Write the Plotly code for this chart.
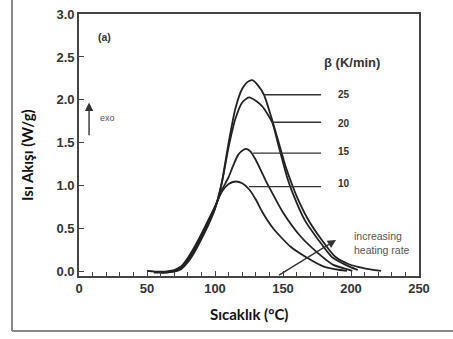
import plotly.graph_objects as go

# DSC heat-flow curves at four heating rates (temperature in °C, heat flow in W/g)
T10 = [50, 60, 70, 75, 80, 85, 90, 95, 100, 105, 110, 115, 120, 125, 130, 135, 143, 155.6, 168, 180, 192, 197]
Q10 = [0.01, 0.0, 0.02, 0.06, 0.16, 0.29, 0.44, 0.60, 0.76, 0.93, 1.02, 1.05, 1.03, 0.96, 0.84, 0.69, 0.50, 0.29, 0.16, 0.06, 0.02, 0.01]

T15 = [55, 65, 70, 75, 80, 85, 90, 95, 100, 105, 110, 113, 117, 121, 123, 126, 130, 134, 137, 141, 150, 163, 175.5, 187, 197, 201]
Q15 = [-0.01, -0.01, 0.01, 0.05, 0.14, 0.27, 0.42, 0.58, 0.75, 0.95, 1.10, 1.22, 1.36, 1.42, 1.43, 1.40, 1.30, 1.17, 1.07, 0.95, 0.69, 0.41, 0.22, 0.08, 0.03, 0.01]

T20 = [60, 70, 75, 80, 85, 90, 95, 100, 105, 110, 115, 120, 125, 130, 135, 142, 147, 153, 157, 166, 176, 186, 196, 205]
Q20 = [-0.01, 0.01, 0.04, 0.13, 0.25, 0.40, 0.56, 0.74, 1.03, 1.45, 1.78, 1.97, 2.03, 1.99, 1.92, 1.74, 1.45, 1.10, 0.92, 0.60, 0.37, 0.17, 0.08, 0.02]

T25 = [60, 70, 75, 80, 85, 90, 95, 100, 105, 110, 115, 120, 124, 127.5, 131, 136, 141, 146, 152, 157, 160, 168, 178, 188, 198, 210, 222]
Q25 = [-0.01, 0.0, 0.03, 0.11, 0.23, 0.38, 0.54, 0.73, 1.04, 1.50, 1.90, 2.13, 2.21, 2.23, 2.18, 2.06, 1.82, 1.55, 1.22, 1.00, 0.88, 0.62, 0.38, 0.18, 0.09, 0.04, 0.01]

# Heating-rate labels with their leader lines
RATES = ["25", "20", "15", "10"]
LEAD_Y = [2.06, 1.74, 1.38, 0.99]
LEAD_X0 = [136, 142, 128, 125]
LEAD_X1 = 178
LABEL_X = 195
LABEL_Y = [2.06, 1.72, 1.40, 1.03]

X_TICKS = [0, 50, 100, 150, 200, 250]
Y_TICKS = [0.0, 0.5, 1.0, 1.5, 2.0, 2.5, 3.0]

LINE = "#222222"
TXT = "#333333"
TICKFONT = dict(family="Liberation Sans, Arial", size=13, color=TXT, weight="bold")

fig = go.Figure()
for T, Q in [(T10, Q10), (T15, Q15), (T20, Q20), (T25, Q25)]:
    fig.add_trace(go.Scatter(x=T, y=Q, mode="lines",
                             line=dict(color=LINE, width=1.8, shape="spline", smoothing=0.6),
                             showlegend=False, hoverinfo="skip"))

shapes = []
annotations = []
for r, y0, x0, ly in zip(RATES, LEAD_Y, LEAD_X0, LABEL_Y):
    shapes.append(dict(type="line", xref="x", yref="y", x0=x0, x1=LEAD_X1, y0=y0, y1=y0,
                       line=dict(color="#333333", width=1.3)))
    annotations.append(dict(x=LABEL_X, y=ly, xref="x", yref="y", text=r, showarrow=False,
                            font=dict(family="Liberation Sans, Arial", size=10, color=TXT, weight="bold")))

annotations += [
    dict(x=201, y=2.44, xref="x", yref="y", text="β (K/min)", showarrow=False,
         font=dict(family="Liberation Sans, Arial", size=13, color=TXT, weight="bold")),
    dict(x=18.5, y=2.73, xref="x", yref="y", text="(a)", showarrow=False,
         font=dict(family="Liberation Sans, Arial", size=10.5, color=TXT, weight="bold")),
    dict(x=21, y=1.79, xref="x", yref="y", text="exo", showarrow=False,
         font=dict(family="Liberation Sans, Arial", size=9, color="#555555")),
    dict(x=7.4, y=1.97, ax=7.4, ay=1.57, xref="x", yref="y", axref="x", ayref="y",
         text="", showarrow=True, arrowhead=2, arrowsize=1.2, arrowwidth=1.4, arrowcolor="#333333"),
    dict(x=189, y=0.37, ax=146, ay=-0.05, xref="x", yref="y", axref="x", ayref="y",
         text="", showarrow=True, arrowhead=2, arrowsize=1.2, arrowwidth=1.4, arrowcolor="#333333"),
    dict(x=201, y=0.33, xref="x", yref="y", text="increasing<br>heating rate", showarrow=False,
         xanchor="left", align="left",
         font=dict(family="Liberation Sans, Arial", size=10.5, color="#555555")),
    dict(x=-0.153, y=0.462, xref="paper", yref="paper", text="Isı Akışı (W/g)", showarrow=False,
         xanchor="center", yanchor="middle", textangle=-90,
         font=dict(family="Lato", size=15, color="#111111", weight="bold")),
    dict(x=0.501, y=-0.145, xref="paper", yref="paper", text="Sıcaklık (°C)", showarrow=False,
         xanchor="center", yanchor="middle",
         font=dict(family="Lato", size=15, color="#111111", weight="bold")),
]

# outer frame around the figure (left and bottom edges)
shapes += [
    dict(type="line", xref="paper", yref="paper", x0=-0.197, x1=-0.197, y0=-0.21, y1=1.06,
         line=dict(color="#888888", width=2)),
    dict(type="line", xref="paper", yref="paper", x0=-0.197, x1=1.11, y0=-0.21, y1=-0.21,
         line=dict(color="#888888", width=2)),
]

fig.update_layout(
    width=453, height=339,
    margin=dict(l=79, r=34, t=14, b=63),
    paper_bgcolor="white", plot_bgcolor="white",
    shapes=shapes, annotations=annotations,
    xaxis=dict(range=[0, 250], tickvals=X_TICKS, ticks="inside", ticklen=5, tickwidth=1.3,
               tickcolor="#444444", showline=True, linecolor="#444444", linewidth=1.6,
               mirror=True, showgrid=False, zeroline=False, tickfont=TICKFONT, automargin=False,
               minor=dict(dtick=10, ticks="inside", ticklen=4, tickcolor="#444444", tickwidth=1.2)),
    yaxis=dict(range=[-0.05, 3.0], tickvals=Y_TICKS, ticktext=[f"{v:.1f}" for v in Y_TICKS],
               ticks="inside", ticklen=5, tickwidth=1.3, tickcolor="#444444",
               showline=True, linecolor="#444444", linewidth=1.6, mirror=True, automargin=False,
               showgrid=False, zeroline=False, tickfont=TICKFONT),
)

fig.write_html("out.html")
